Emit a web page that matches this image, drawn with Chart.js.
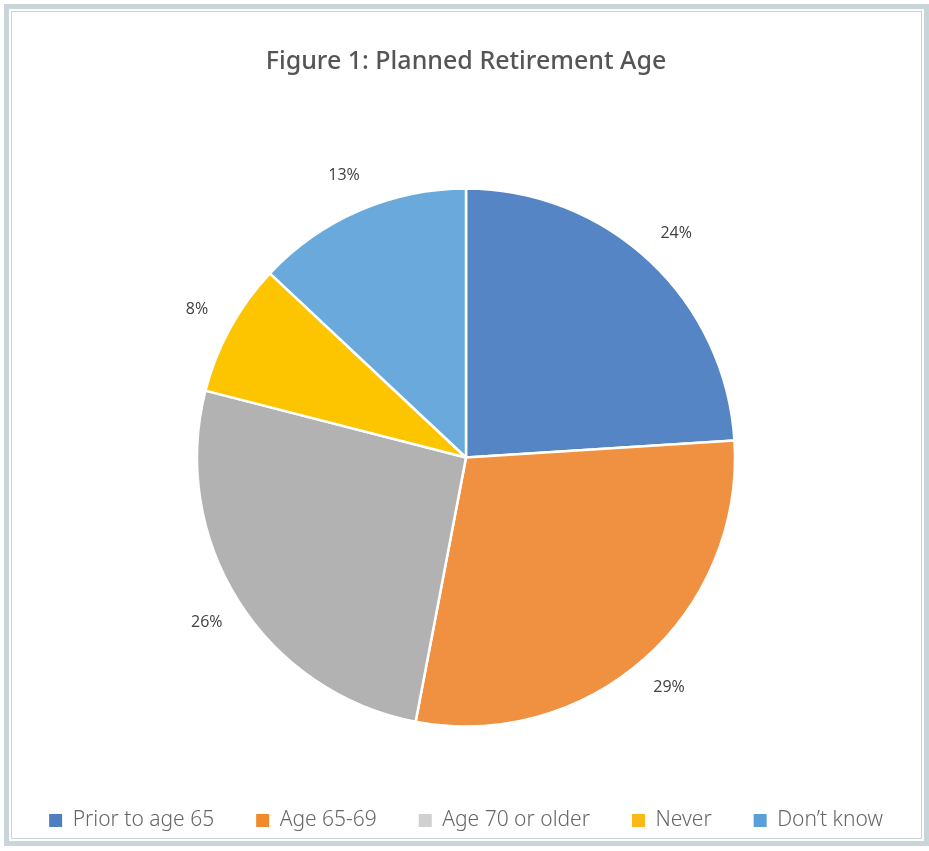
<!DOCTYPE html>
<html>
<head>
<meta charset="utf-8">
<script src="https://cdn.jsdelivr.net/npm/chart.js@4.4.1/dist/chart.umd.min.js"></script>
<style>
  html, body { margin: 0; padding: 0; background: #fff; }
  #wrap { position: relative; width: 929px; height: 851px; overflow: hidden; }
  /* double frame around the figure */
  .frame-outer { position: absolute; left: 4px; top: 4px; right: 0; bottom: 5px; border: 5px solid #c9d6d9; border-right-width: 5px; }
  .frame-inner { position: absolute; left: 11px; top: 11px; right: 7px; bottom: 12px; border: 1.5px solid #c9d6d9; }
  canvas { position: absolute; left: 0; top: 0; }
</style>
</head>
<body>
<div id="wrap">
  <div class="frame-outer"></div>
  <div class="frame-inner"></div>
  <canvas id="chartRetirement" width="929" height="851"></canvas>
</div>
<script>
// Planned retirement age, share of respondents (%)
const categories = ['Prior to age 65', 'Age 65-69', 'Age 70 or older', 'Never', 'Don\u2019t know'];
const shares = [24, 29, 26, 8, 13];
const sliceColors = ['#5585c5', '#f09142', '#b2b2b2', '#fdc500', '#69a9dc'];
const legendColors = ['#4f7fc1', '#f08a2c', '#d0d0d0', '#fbb917', '#5b9fd8'];

// Percent labels placed just outside each slice
const outsideLabels = {
    id: 'outsideLabels',
    afterDatasetsDraw(chart) {
        const ctx = chart.ctx;
        const meta = chart.getDatasetMeta(0);
        ctx.save();
        ctx.font = '16px "Open Sans", sans-serif';
        ctx.fillStyle = '#404040';
        ctx.textAlign = 'center';
        ctx.textBaseline = 'middle';
        meta.data.forEach((arc, i) => {
            const p = arc.getProps(['x', 'y', 'startAngle', 'endAngle', 'outerRadius'], true);
            const mid = (p.startAngle + p.endAngle) / 2;
            const r = p.outerRadius + 38;
            ctx.fillText(shares[i] + '%', p.x + Math.cos(mid) * r, p.y + Math.sin(mid) * r);
        });
        ctx.restore();
    }
};

const ctx = document.getElementById('chartRetirement');
new Chart(ctx, {
    type: 'pie',
    data: {
        labels: categories,
        datasets: [{
            data: shares,
            backgroundColor: sliceColors,
            borderColor: '#ffffff',
            borderWidth: 2.5,
            radius: 269
        }]
    },
    options: {
        responsive: false,
        animation: false,
        layout: { padding: { left: 3, right: 0, top: 0, bottom: 10 } },
        plugins: {
            tooltip: { enabled: false },
            title: {
                display: true,
                text: 'Figure 1: Planned Retirement Age',
                color: '#555555',
                font: { family: '"Noto Sans"', size: 25, weight: '500' },
                padding: { top: 47, bottom: 70 }
            },
            legend: {
                position: 'bottom',
                labels: {
                    color: '#666666',
                    font: { family: '"Noto Sans"', size: 21, weight: '300' },
                    boxWidth: 13,
                    boxHeight: 13,
                    padding: 42,
                    generateLabels(chart) {
                        return categories.map((c, i) => ({
                            text: c,
                            fillStyle: legendColors[i],
                            strokeStyle: legendColors[i],
                            lineWidth: 0,
                            fontColor: '#666666',
                            index: i
                        }));
                    }
                }
            }
        }
    },
    plugins: [outsideLabels]
});
</script>
</body>
</html>
